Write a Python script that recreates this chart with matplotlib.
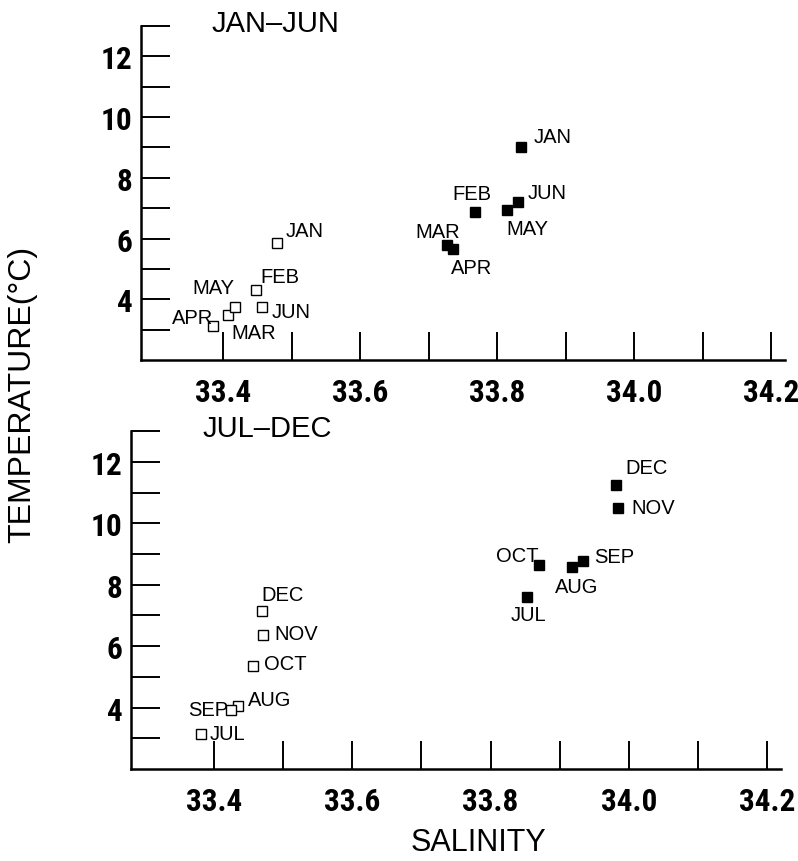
import matplotlib
matplotlib.use("Agg")
import matplotlib.pyplot as plt
import numpy as np

# ---- data ----
months_h1 = ['JAN', 'FEB', 'MAR', 'APR', 'MAY', 'JUN']
sal_open_h1 = [33.478, 33.448, 33.385, 33.407, 33.417, 33.456]
temp_open_h1 = [5.85, 4.29, 3.11, 3.48, 3.75, 3.74]
sal_fill_h1 = [33.835, 33.767, 33.727, 33.736, 33.814, 33.830]
temp_fill_h1 = [9.00, 6.88, 5.79, 5.66, 6.95, 7.19]

months_h2 = ['JUL', 'AUG', 'SEP', 'OCT', 'NOV', 'DEC']
sal_open_h2 = [33.381, 33.434, 33.425, 33.457, 33.471, 33.469]
temp_open_h2 = [3.15, 4.04, 3.92, 5.35, 6.36, 7.13]
sal_fill_h2 = [33.852, 33.918, 33.934, 33.870, 33.984, 33.982]
temp_fill_h2 = [7.61, 8.58, 8.76, 8.65, 10.50, 11.26]

x_ticks = [33.4, 33.5, 33.6, 33.7, 33.8, 33.9, 34.0, 34.1, 34.2]
x_ticklabels = ['33.4', '', '33.6', '', '33.8', '', '34.0', '', '34.2']
y_ticks = [3, 4, 5, 6, 7, 8, 9, 10, 11, 12, 13]
y_ticklabels = ['', '4', '', '6', '', '8', '', '10', '', '12', '']

# label placement (pixel offsets from marker: dx, dy up, horizontal alignment)
lab_open_h1 = {'JAN': (9, 13, 'left'), 'FEB': (4, 14, 'left'), 'MAR': (18, -6, 'left'),
               'APR': (-15, -2, 'right'), 'MAY': (0, 19, 'right'), 'JUN': (10, -4, 'left')}
lab_fill_h1 = {'JAN': (12, 11, 'left'), 'FEB': (-3, 18, 'center'), 'MAR': (13, 13, 'right'),
               'APR': (-2, -19, 'left'), 'MAY': (0, -19, 'left'), 'JUN': (10, 10, 'left')}
lab_open_h2 = {'JUL': (9, 0, 'left'), 'AUG': (10, 7, 'left'), 'SEP': (-3, 1, 'right'),
               'OCT': (11, 3, 'left'), 'NOV': (11, 2, 'left'), 'DEC': (0, 17, 'left')}
lab_fill_h2 = {'JUL': (2, -18, 'center'), 'AUG': (4, -20, 'center'), 'SEP': (11, 5, 'left'),
               'OCT': (0, 9, 'right'), 'NOV': (14, 0, 'left'), 'DEC': (9, 17, 'left')}

text_font = ['Liberation Sans', 'DejaVu Sans']
tick_font = ['Roboto Condensed', 'DejaVu Sans']
PX = 0.72  # points per pixel at dpi 100


def draw_panel(ax, title, months, s_open, t_open, s_fill, t_fill, lab_open, lab_fill):
    ax.plot(s_open, t_open, ls='none', marker='s', ms=7.3, mfc='white', mec='black', mew=1.0, zorder=3)
    ax.plot(s_fill, t_fill, ls='none', marker='s', ms=7.5, mfc='black', mec='black', zorder=3)
    for m, s, t in zip(months, s_open, t_open):
        dx, dy, ha = lab_open[m]
        ax.annotate(m, (s, t), xytext=(dx * PX, dy * PX), textcoords='offset points',
                    ha=ha, va='center', fontsize=14.5, family=text_font)
    for m, s, t in zip(months, s_fill, t_fill):
        dx, dy, ha = lab_fill[m]
        ax.annotate(m, (s, t), xytext=(dx * PX, dy * PX), textcoords='offset points',
                    ha=ha, va='center', fontsize=14.5, family=text_font)

    ax.set_xlim(33.28, 34.22)
    ax.set_ylim(2, 13)
    ax.spines['top'].set_visible(False)
    ax.spines['right'].set_visible(False)
    ax.spines['left'].set_linewidth(1.8)
    ax.spines['bottom'].set_linewidth(1.8)
    ax.set_xticks(x_ticks)
    ax.set_xticklabels(x_ticklabels)
    ax.set_yticks(y_ticks)
    ax.set_yticklabels(y_ticklabels)
    ax.tick_params(axis='x', direction='in', length=20, width=1.4, pad=12)
    ax.tick_params(axis='y', direction='in', length=21, width=1.4, pad=6)
    for lab in ax.get_xticklabels() + ax.get_yticklabels():
        lab.set_family(tick_font)
        lab.set_fontweight('bold')
        lab.set_fontsize(22.5)
    ax.text(0.11, 1.01, title, transform=ax.transAxes, ha='left', va='center',
            fontsize=21, family=text_font)


fig = plt.figure(figsize=(7.98, 8.62), dpi=100)
ax1 = fig.add_axes([0.1767, 0.5812, 0.8070, 0.3875])
ax2 = fig.add_axes([0.1642, 0.1067, 0.8145, 0.3920])

draw_panel(ax1, 'JAN\u2013JUN', months_h1, sal_open_h1, temp_open_h1,
           sal_fill_h1, temp_fill_h1, lab_open_h1, lab_fill_h1)
draw_panel(ax2, 'JUL\u2013DEC', months_h2, sal_open_h2, temp_open_h2,
           sal_fill_h2, temp_fill_h2, lab_open_h2, lab_fill_h2)

fig.text(0.0276, 0.542, 'TEMPERATURE(\u00b0C)', rotation=90, ha='center', va='center',
         fontsize=23, family=text_font)
fig.text(0.600, 0.0215, 'SALINITY', ha='center', va='center', fontsize=22, family=text_font)

fig.savefig('out.png', dpi=100)
